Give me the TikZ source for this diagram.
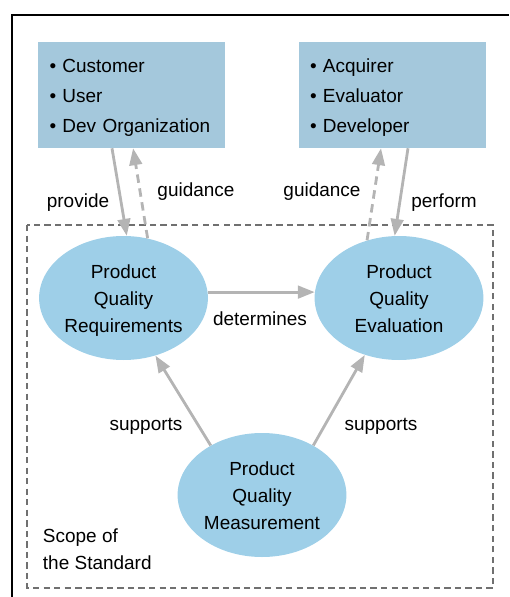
\documentclass[tikz,border=0pt]{standalone}
\usepackage{fontspec}
\setmainfont{Liberation Sans}
\usetikzlibrary{arrows.meta, shapes.geometric}

\definecolor{boxblue}{HTML}{A4C8DC}
\definecolor{ellblue}{HTML}{9ECFE8}
\definecolor{flowgray}{HTML}{B4B4B4}
\definecolor{scopegray}{HTML}{707070}

\newcommand{\topstrut}{\rule{0pt}{14pt}}
\newcommand{\botstrut}{\rule[-3pt]{0pt}{0pt}}

\tikzset{
    actors/.style={fill=boxblue, minimum width=4.675cm, minimum height=2.65cm, align=left, text width=4.1cm, font=\fontsize{13.5}{21.3}\selectfont},
    process/.style={ellipse, fill=ellblue, minimum width=4.22cm, minimum height=3.1cm, inner sep=0pt, align=center, font=\fontsize{13.5}{19.2}\selectfont},
    flow/.style={-{Triangle[length=12pt, width=9pt]}, flowgray, line width=2pt},
    back/.style={flow, dash pattern=on 6pt off 4pt},
    lbl/.style={font=\fontsize{13.5}{19.2}\selectfont}
}

\begin{document}
\begin{tikzpicture}
    \useasboundingbox (0,0) rectangle (12.725,-14.925);

    % frame and scope
    \draw[black, line width=0.8pt] (0.3,-14.925) -- (0.3,-0.375) -- (12.725,-0.375);
    \draw[scopegray, line width=0.8pt, dash pattern=on 4.5pt off 3pt] (0.675,-5.625) rectangle (12.325,-14.7);

    % stakeholders
    \node[actors](L) at (3.2875,-2.375) {\topstrut\textbullet\ Customer\\ \textbullet\ User\\ \textbullet\ Dev Organization};
    \node[actors](R) at (9.8,-2.375) {\topstrut\textbullet\ Acquirer\\ \textbullet\ Evaluator\\ \textbullet\ Developer};

    % processes
    \node[process](PQR) at (3.0875,-7.45) {\topstrut Product\\ Quality\\ Requirements};
    \node[process](PQE) at (9.975,-7.45) {\topstrut Product\\ Quality\\ Evaluation\botstrut};
    \node[process](PQM) at (6.55,-12.375) {\topstrut Product\\ Quality\\ Measurement\botstrut};

    \draw[flow] ([xshift=-0.4875cm]L.south) -- (PQR.87);
    \draw[back] (PQR.68) -- ([xshift=0.04cm]L.south);
    \draw[back] (PQE.119) -- ([xshift=-0.275cm]R.south);
    \draw[flow] ([xshift=0.4cm]R.south) -- (PQE.94);
    \draw[flow] (PQR.4) -- (PQE.176);
    \draw[flow] (PQM.136) -- (PQR.299);
    \draw[flow] (PQM.44) -- (PQE.239);

    \node[lbl](provide) at (1.95,-5.07) {provide};
    \node[lbl](guideL) at (4.9,-4.795) {guidance};
    \node[lbl](guideR) at (8.05,-4.795) {guidance};
    \node[lbl](perform) at (11.1,-5.07) {perform};
    \node[lbl](determines) at (6.5,-7.98) {determines};
    \node[lbl](supportsL) at (3.65,-10.67) {supports};
    \node[lbl](supportsR) at (9.525,-10.67) {supports};
    \node[lbl, anchor=west, align=left](scope) at (0.95,-13.72) {Scope of\\ the Standard};
\end{tikzpicture}
\end{document}
